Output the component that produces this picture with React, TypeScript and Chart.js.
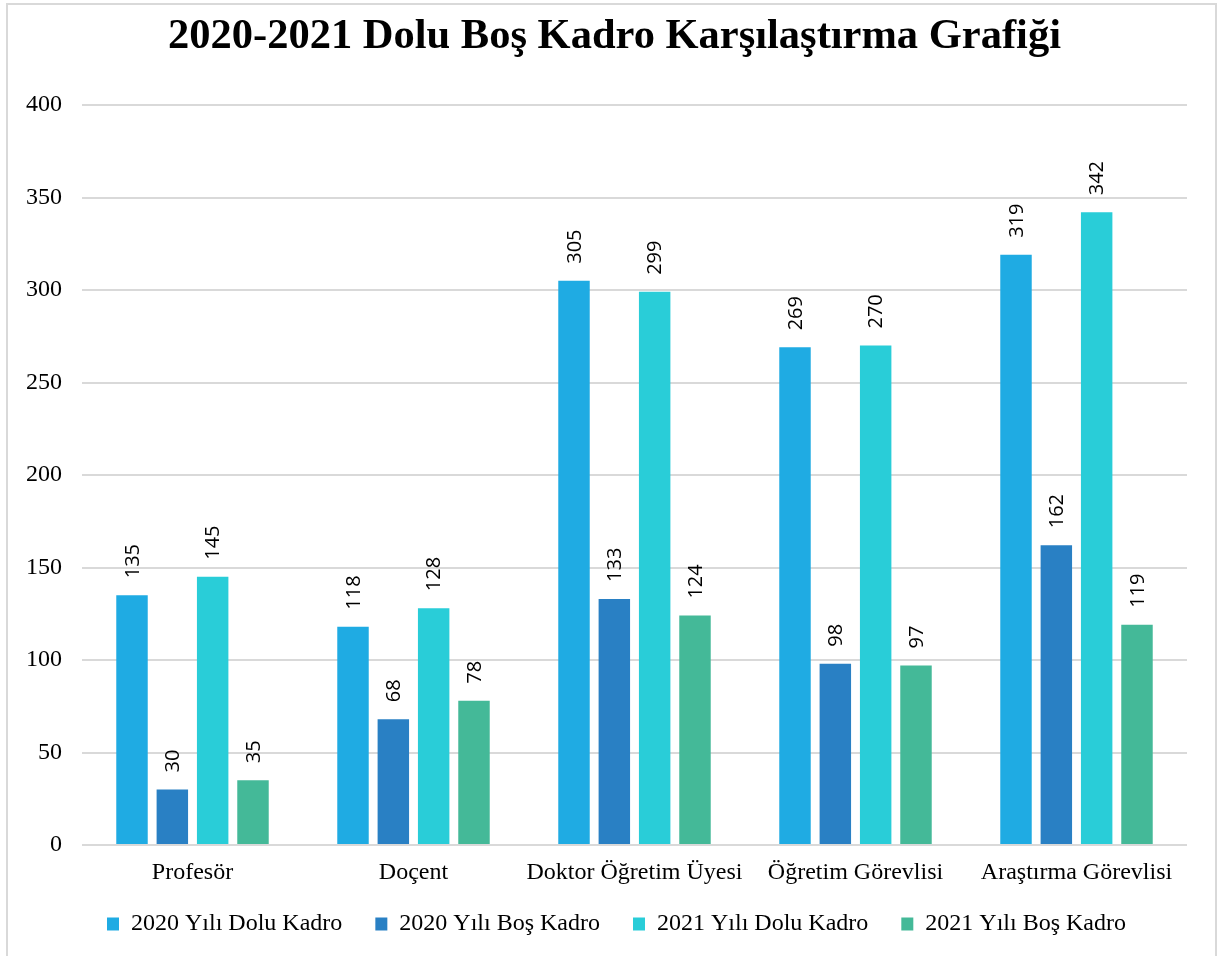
import React, { useEffect, useRef } from "react";
import { Chart, registerables } from "chart.js";

Chart.register(...registerables);

const categories = ["Profesör", "Doçent", "Doktor Öğretim Üyesi", "Öğretim Görevlisi", "Araştırma Görevlisi"];
const seriesNames = ["2020 Yılı Dolu Kadro", "2020 Yılı Boş Kadro", "2021 Yılı Dolu Kadro", "2021 Yılı Boş Kadro"];
const dolu2020 = [135, 118, 305, 269, 319];
const bos2020 = [30, 68, 133, 98, 162];
const dolu2021 = [145, 128, 299, 270, 342];
const bos2021 = [35, 78, 124, 97, 119];
const seriesColors = ["#1FABE3", "#2980C4", "#29CDD8", "#44B998"];
const titleText = "2020-2021 Dolu Boş Kadro Karşılaştırma Grafiği";

const valueLabels = {
  id: "valueLabels",
  afterDatasetsDraw(chart: any) {
    const ctx = chart.ctx;
    ctx.save();
    ctx.font = "20px 'Open Sans'";
    ctx.fillStyle = "#000";
    ctx.textAlign = "left";
    ctx.textBaseline = "middle";
    chart.data.datasets.forEach((ds: any, di: number) => {
      const meta = chart.getDatasetMeta(di);
      meta.data.forEach((bar: any, i: number) => {
        ctx.save();
        ctx.translate(bar.x + 1, bar.y - 17);
        ctx.rotate(-Math.PI / 2);
        ctx.fillText(String(ds.data[i]), 0, 0);
        ctx.restore();
      });
    });
    ctx.restore();
  },
};

// Fine placement of title and legend boxes (the reference centres them slightly right of the canvas centre)
const nudgeBoxes = {
  id: "nudgeBoxes",
  afterLayout(chart: any) {
    const lg = chart.legend;
    if (lg) {
      lg.left += 20;
      lg.right += 20;
      lg.top -= 10;
      lg.bottom -= 10;
    }
    const t = chart.titleBlock;
    if (t) {
      t.left += 18;
      t.right += 18;
    }
  },
};

export default function App() {
  const ref = useRef<HTMLCanvasElement>(null);
  useEffect(() => {
    const data = [dolu2020, bos2020, dolu2021, bos2021];
    const chart = new Chart(ref.current!, {
      type: "bar",
      data: {
        labels: categories,
        datasets: seriesNames.map((name, k) => ({
          label: name,
          data: data[k],
          backgroundColor: seriesColors[k],
          borderWidth: 0,
          barPercentage: 0.78,
          categoryPercentage: 0.73,
        })),
      },
      options: {
        responsive: false,
        animation: false,
        layout: { padding: { left: 6, right: 30, top: 12, bottom: 0 } },
        plugins: {
          title: {
            display: true,
            text: titleText,
            color: "#000",
            font: { family: "'Liberation Serif'", size: 42.5, weight: "bold" },
            padding: { top: 0, bottom: 42 },
          },
          legend: {
            display: true,
            position: "bottom",
            labels: {
              color: "#000",
              font: { family: "'Liberation Serif'", size: 24 },
              boxWidth: 12,
              boxHeight: 13,
              padding: 33,
            },
          },
          tooltip: { enabled: false },
        },
        scales: {
          x: {
            grid: { display: false, drawTicks: false },
            border: { display: false },
            ticks: {
              color: "#000",
              font: { family: "'Liberation Serif'", size: 24 },
              padding: 13,
              maxRotation: 0,
              minRotation: 0,
              autoSkip: false,
            },
            afterFit(scale: any) {
              scale.height = 44;
            },
          },
          y: {
            min: 0,
            max: 400,
            ticks: {
              stepSize: 50,
              color: "#000",
              font: { family: "'Liberation Serif'", size: 24 },
              padding: 20,
            },
            grid: { color: "#d9d9d9", lineWidth: 2, drawTicks: false },
            border: { display: false },
          },
        },
      },
      plugins: [valueLabels, nudgeBoxes],
    });
    return () => chart.destroy();
  }, []);
  return (
    <div style={{ position: "absolute", left: 0, top: 0, width: 1217, height: 956, background: "#fff", overflow: "hidden" }}>
      <canvas ref={ref} width={1217} height={956} style={{ position: "absolute", left: 0, top: 0 }} />
      <div
        style={{
          position: "absolute",
          left: 6,
          top: 3,
          width: 1211,
          height: 953,
          boxSizing: "border-box",
          border: "2px solid #d9d9d9",
          borderBottom: "none",
          pointerEvents: "none",
        }}
      />
    </div>
  );
}
